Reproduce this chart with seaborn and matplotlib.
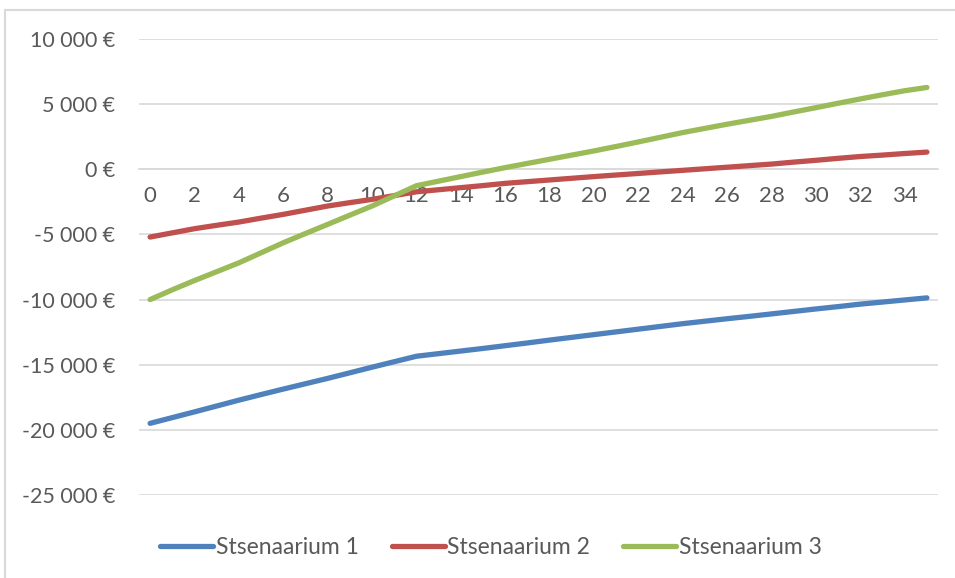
import matplotlib
matplotlib.use("Agg")
import matplotlib.pyplot as plt
from matplotlib.patches import Rectangle
from matplotlib.lines import Line2D
from matplotlib.ticker import FuncFormatter, MultipleLocator
import seaborn as sns
import pandas as pd

# Years on the category axis
years = list(range(36))

scenario_1 = [-19500, -19060, -18620, -18170, -17720, -17290, -16870, -16460,
              -16050, -15620, -15190, -14770, -14350, -14150, -13950, -13750,
              -13540, -13330, -13110, -12900, -12690, -12480, -12270, -12060,
              -11850, -11660, -11470, -11290, -11100, -10910, -10720, -10540,
              -10350, -10190, -10030, -9870]
scenario_2 = [-5200, -4880, -4560, -4300, -4050, -3750, -3460, -3140,
              -2820, -2560, -2310, -2020, -1730, -1570, -1410, -1250,
              -1080, -950, -820, -690, -560, -440, -320, -200,
              -80, 40, 160, 280, 400, 550, 690, 840,
              980, 1090, 1210, 1320]
scenario_3 = [-10000, -9250, -8540, -7860, -7180, -6410, -5640, -4930,
              -4230, -3520, -2820, -2040, -1260, -910, -560, -210,
              130, 450, 770, 1090, 1410, 1750, 2100, 2460,
              2820, 3140, 3460, 3760, 4060, 4400, 4730, 5070,
              5400, 5720, 6030, 6280]

series_names = ["Stsenaarium 1", "Stsenaarium 2", "Stsenaarium 3"]
series_colors = ["#4F81BD", "#C0504D", "#9BBB59"]

frames = []
for name, vals in zip(series_names, [scenario_1, scenario_2, scenario_3]):
    frames.append(pd.DataFrame({"aasta": years, "summa": vals, "stsenaarium": name}))
df = pd.concat(frames, ignore_index=True)

sns.set_theme(style="white")
text_color = "#595959"
grid_color = "#D9D9D9"
plt.rcParams["font.family"] = ["Lato", "DejaVu Sans"]

fig = plt.figure(figsize=(9.55, 5.78), dpi=100)
ax = fig.add_axes([139 / 955, 1 - 495 / 578, (938 - 139) / 955, (495 - 39) / 578])

sns.lineplot(data=df, x="aasta", y="summa", hue="stsenaarium",
             palette=dict(zip(series_names, series_colors)),
             estimator=None, sort=False, linewidth=3.8, legend=False, ax=ax)
for ln in ax.get_lines():
    ln.set_solid_capstyle("round")
    ln.set_solid_joinstyle("round")

ax.set_xlim(-0.5, 35.5)
ax.set_ylim(-25000, 10000)
ax.yaxis.set_major_locator(MultipleLocator(5000))
ax.xaxis.set_major_locator(MultipleLocator(2))

def euro(v, pos):
    s = f"{abs(int(round(v))):,}".replace(",", " ")
    return ("-" if v < 0 else "") + s + " €"

ax.yaxis.set_major_formatter(FuncFormatter(euro))
ax.xaxis.set_major_formatter(FuncFormatter(lambda v, p: f"{int(v)}"))

ax.grid(axis="y", color=grid_color, linewidth=1.2)
ax.set_axisbelow(True)
for side in ["left", "right", "top"]:
    ax.spines[side].set_visible(False)
ax.spines["bottom"].set_position(("data", 0))
ax.spines["bottom"].set_color(grid_color)
ax.spines["bottom"].set_linewidth(1.2)
ax.spines["bottom"].set_zorder(0.5)

ax.tick_params(axis="y", length=0, pad=17, labelsize=15.5, labelcolor=text_color)
ax.tick_params(axis="x", length=0, pad=12, labelsize=16, labelcolor=text_color)
ax.set_xlabel("")
ax.set_ylabel("")

# Chart-area frame
fig.add_artist(Rectangle((5 / 955, -0.1), 1.2, 1.1 - 10 / 578, transform=fig.transFigure,
                         fill=False, edgecolor=grid_color, linewidth=1.5))

handles = [Line2D([0], [0], color=c, linewidth=3.8, solid_capstyle="round")
           for c in series_colors]
fig.legend(handles, series_names, loc="center", bbox_to_anchor=(491 / 955, 1 - 548 / 578),
           ncol=3, frameon=False, fontsize=16.5, labelcolor=text_color,
           handlelength=2.3, handletextpad=0.12, columnspacing=1.45)

fig.savefig("out.png", dpi=100)
